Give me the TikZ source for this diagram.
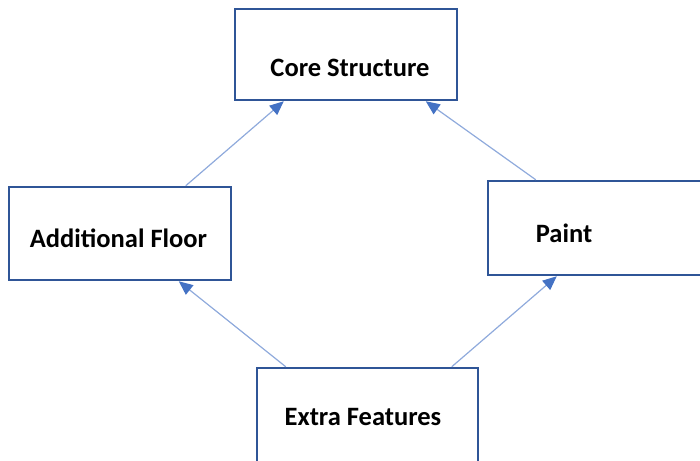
\documentclass[tikz,border=0pt]{standalone}
\usepackage{fontspec}
\setmainfont{Carlito}
\usetikzlibrary{arrows.meta,calc}
\definecolor{boxblue}{HTML}{2F5597}
\definecolor{linkblue}{HTML}{8FAADC}
\definecolor{tipblue}{HTML}{4472C4}
\tikzset{
  boxnode/.style={draw=boxblue, line width=2.5pt, fill=white, rectangle, inner sep=0pt},
  labeltext/.style={font=\bfseries\fontsize{26.5}{30}\selectfont, text=black, anchor=base, inner sep=0pt},
  link/.style={draw=linkblue, line width=1.2pt, -{Triangle[length=14pt,width=12pt,color=tipblue]}}
}
\begin{document}
\begin{tikzpicture}[x=1pt,y=-1pt]
\useasboundingbox (0,0) rectangle (700,460);
\clip (0,0) rectangle (700,460);
\node[boxnode, minimum width=222pt, minimum height=91pt] (core) at (346,54.5) {};
\node[boxnode, minimum width=222pt, minimum height=93pt] (af) at (120,233.5) {};
\node[boxnode, minimum width=222pt, minimum height=94pt] (paint) at (599,228) {};
\node[boxnode, minimum width=221pt, minimum height=110pt] (ef) at (367.5,423) {};
\node[labeltext] (tcore) at (350,76) {Core Structure};
\node[labeltext] (taf) at (118.5,247) {Additional Floor};
\node[labeltext] (tpaint) at (564,242) {Paint};
\node[labeltext] (tef) at (363,425) {Extra Features};
\coordinate (a1s) at ([xshift=178pt]af.north west);
\coordinate (a1e) at ([xshift=50pt]core.south west);
\coordinate (a2s) at ([xshift=49pt]paint.north west);
\coordinate (a2e) at ([xshift=192pt]core.south west);
\coordinate (a3s) at ([xshift=30pt]ef.north west);
\coordinate (a3e) at ([xshift=171pt]af.south west);
\coordinate (a4s) at ([xshift=196pt]ef.north west);
\coordinate (a4e) at ([xshift=70pt]paint.south west);
\draw[link] (a1s) -- (a1e);
\draw[link] (a2s) -- (a2e);
\draw[link] (a3s) -- (a3e);
\draw[link] (a4s) -- (a4e);
\end{tikzpicture}
\end{document}
